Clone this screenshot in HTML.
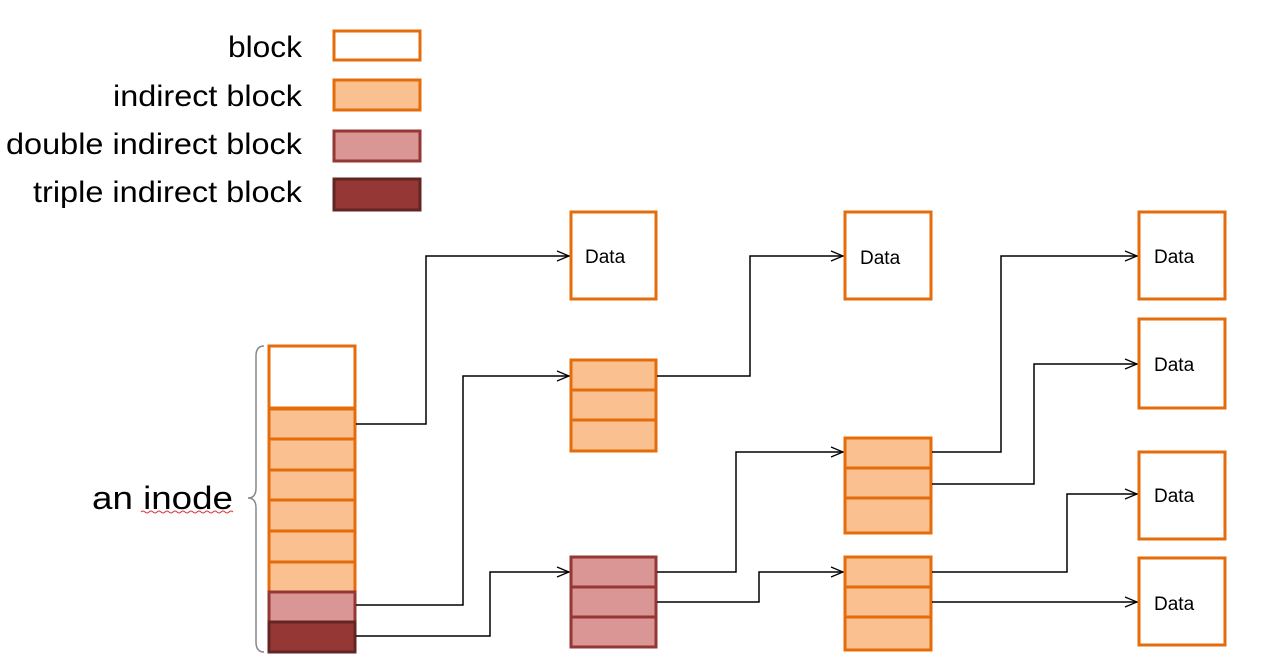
<!DOCTYPE html>
<html><head><meta charset="utf-8"><style>
html,body{margin:0;padding:0;background:#fff;}
svg{display:block;}
text{font-family:"Liberation Sans",sans-serif;}
</style></head><body>
<svg width="1264" height="661" viewBox="0 0 1264 661" xmlns="http://www.w3.org/2000/svg">
<defs>
<marker id="a" markerWidth="14" markerHeight="12" refX="13" refY="6" orient="auto" markerUnits="userSpaceOnUse">
<path d="M1,1 L13,6 L1,11" fill="none" stroke="#000" stroke-width="1.3"/>
</marker>
</defs>
<!-- legend -->
<g font-size="30" fill="#000" lengthAdjust="spacingAndGlyphs">
<text x="228" y="57" textLength="74" lengthAdjust="spacingAndGlyphs">block</text>
<text x="113" y="106" textLength="189" lengthAdjust="spacingAndGlyphs">indirect block</text>
<text x="6" y="154" textLength="296" lengthAdjust="spacingAndGlyphs">double indirect block</text>
<text x="33" y="202" textLength="269" lengthAdjust="spacingAndGlyphs">triple indirect block</text>
</g>
<g stroke-width="3">
<rect x="334" y="31" width="86" height="29" fill="#fff" stroke="#E46C0A"/>
<rect x="334" y="80" width="86" height="30" fill="#FAC090" stroke="#E46C0A"/>
<rect x="334" y="131" width="86" height="30" fill="#D99694" stroke="#953735"/>
<rect x="334" y="179" width="86" height="31" fill="#953735" stroke="#632523"/>
</g>
<!-- inode -->
<g stroke-width="3">
<rect x="269" y="346" width="86" height="62" fill="#fff" stroke="#E46C0A"/>
<rect x="269" y="409" width="86" height="30" fill="#FAC090" stroke="#E46C0A"/>
<rect x="269" y="439" width="86" height="31" fill="#FAC090" stroke="#E46C0A"/>
<rect x="269" y="470" width="86" height="30" fill="#FAC090" stroke="#E46C0A"/>
<rect x="269" y="500" width="86" height="31" fill="#FAC090" stroke="#E46C0A"/>
<rect x="269" y="531" width="86" height="31" fill="#FAC090" stroke="#E46C0A"/>
<rect x="269" y="562" width="86" height="30" fill="#FAC090" stroke="#E46C0A"/>
<rect x="269" y="592" width="86" height="30" fill="#D99694" stroke="#953735"/>
<rect x="269" y="622" width="86" height="30" fill="#953735" stroke="#632523"/>
</g>
<path d="M264,346 Q256,346 256,356 L256,488 Q256,498 248,498 Q256,498 256,508 L256,642 Q256,652 264,652" fill="none" stroke="#888" stroke-width="1.5"/>
<text x="92" y="509" font-size="32" textLength="141" lengthAdjust="spacingAndGlyphs">an inode</text>
<path d="M141,512 q2,-2 4,0 t4,0 t4,0 t4,0 t4,0 t4,0 t4,0 t4,0 t4,0 t4,0 t4,0 t4,0 t4,0 t4,0 t4,0 t4,0 t4,0 t4,0 t4,0 t4,0 t4,0 t4,0 t4,0" fill="none" stroke="#d33" stroke-width="1"/>
<!-- data boxes -->
<g stroke="#E46C0A" stroke-width="3" fill="#fff">
<rect x="571" y="212" width="85" height="87"/>
<rect x="845" y="212" width="86" height="87"/>
<rect x="1139" y="212" width="86" height="87"/>
<rect x="1139" y="319" width="86" height="89"/>
<rect x="1139" y="452" width="86" height="87"/>
<rect x="1139" y="558" width="86" height="87"/>
</g>
<g font-size="19" fill="#000">
<text x="585" y="263">Data</text>
<text x="860" y="264">Data</text>
<text x="1154" y="263">Data</text>
<text x="1154" y="371">Data</text>
<text x="1154" y="502">Data</text>
<text x="1154" y="610">Data</text>
</g>
<!-- indirect blocks -->
<g stroke-width="3">
<rect x="571" y="360" width="85" height="30" fill="#FAC090" stroke="#E46C0A"/>
<rect x="571" y="390" width="85" height="30" fill="#FAC090" stroke="#E46C0A"/>
<rect x="571" y="420" width="85" height="31" fill="#FAC090" stroke="#E46C0A"/>
<rect x="571" y="557" width="85" height="30" fill="#D99694" stroke="#953735"/>
<rect x="571" y="587" width="85" height="30" fill="#D99694" stroke="#953735"/>
<rect x="571" y="617" width="85" height="30" fill="#D99694" stroke="#953735"/>
<rect x="845" y="438" width="86" height="30" fill="#FAC090" stroke="#E46C0A"/>
<rect x="845" y="468" width="86" height="30" fill="#FAC090" stroke="#E46C0A"/>
<rect x="845" y="498" width="86" height="35" fill="#FAC090" stroke="#E46C0A"/>
<rect x="845" y="557" width="86" height="30" fill="#FAC090" stroke="#E46C0A"/>
<rect x="845" y="587" width="86" height="30" fill="#FAC090" stroke="#E46C0A"/>
<rect x="845" y="617" width="86" height="33" fill="#FAC090" stroke="#E46C0A"/>
</g>
<!-- connectors -->
<g fill="none" stroke="#000" stroke-width="1.5" marker-end="url(#a)">
<path d="M356,424 H426 V256 H569"/>
<path d="M356,605 H463 V376 H569"/>
<path d="M356,636 H490 V572 H569"/>
<path d="M657,376 H750 V256 H843"/>
<path d="M657,572 H736 V452 H843"/>
<path d="M657,602 H759 V572 H843"/>
<path d="M932,452 H1001 V256 H1137"/>
<path d="M932,484 H1034 V364 H1137"/>
<path d="M932,572 H1067 V494 H1137"/>
<path d="M932,602 H1137"/>
</g>
</svg>
</body></html>
